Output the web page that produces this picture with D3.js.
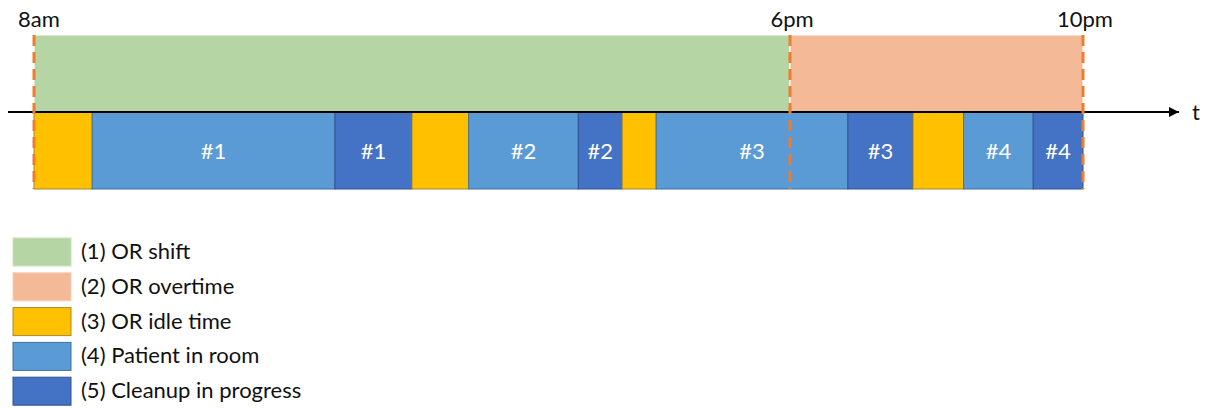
<!DOCTYPE html>
<html>
<head>
<meta charset="utf-8">
<script src="https://cdn.jsdelivr.net/npm/d3@7"></script>
<style>
  body { margin: 0; background: #fff; }
  svg { display: block; font-family: Lato, "Liberation Sans", sans-serif; }
</style>
</head>
<body>
<div id="chart"></div>
<script>
/* DATA */
// clock hours of the marked times on the axis
const tickHours = [8, 18, 22];
const tickLabels = ["8am", "6pm", "10pm"];

// OR shift / overtime bands (hours)
const bandStart = [8, 18];
const bandEnd = [18, 22];
const bandType = ["shift", "overtime"];

// room activity, boundaries in hours
const segBounds = [8, 8.77, 11.98, 13.0, 13.75, 15.2, 15.78, 16.23, 18.79, 19.68, 20.37, 21.32, 22];
const segType = ["idle", "patient", "cleanup", "idle", "patient", "cleanup",
  "idle", "patient", "cleanup", "idle", "patient", "cleanup"];
const segLabel = ["", "#1", "#1", "", "#2", "#2", "", "#3", "#3", "", "#4", "#4"];

// legend
const legendKeys = ["shift", "overtime", "idle", "patient", "cleanup"];
const legendLabels = ["(1) OR shift", "(2) OR overtime", "(3) OR idle time",
  "(4) Patient in room", "(5) Cleanup in progress"];

/* CONSTANTS */
const width = 1205, height = 408;
const bandTop = 35, axisY = 112, barBottom = 189;

const fill = d3.scaleOrdinal()
  .domain(legendKeys)
  .range(["#B6D5A4", "#F4BA97", "#FFC000", "#5B9BD5", "#4472C4"]);
const stroke = d3.scaleOrdinal()
  .domain(legendKeys)
  .range(["#C9E0BC", "#F7CDB3", "#A68A2A", "#41719C", "#2F528F"]);

// the sketch is not to scale: evening hours are a bit narrower
const x = d3.scaleLinear()
  .domain(tickHours)
  .range([34, 790, 1083]);

const svg = d3.select("#chart").append("svg")
  .attr("width", width)
  .attr("height", height);

// shift / overtime bands
svg.selectAll("rect.band")
  .data(bandStart.map((s, i) => ({ s, e: bandEnd[i], t: bandType[i] })))
  .join("rect")
  .attr("class", "band")
  .attr("x", d => x(d.s))
  .attr("y", bandTop)
  .attr("width", d => x(d.e) - x(d.s))
  .attr("height", axisY - bandTop)
  .attr("fill", d => fill(d.t))
  .attr("stroke", "#fff")
  .attr("stroke-width", 1);

// activity segments
const segs = segType.map((t, i) => ({ s: segBounds[i], e: segBounds[i + 1], t, label: segLabel[i] }));

svg.selectAll("rect.seg")
  .data(segs)
  .join("rect")
  .attr("class", "seg")
  .attr("x", d => x(d.s))
  .attr("y", axisY)
  .attr("width", d => x(d.e) - x(d.s))
  .attr("height", barBottom - axisY)
  .attr("fill", d => fill(d.t))
  .attr("stroke", d => stroke(d.t))
  .attr("stroke-width", 1);

svg.selectAll("text.seg")
  .data(segs.filter(d => d.label))
  .join("text")
  .attr("class", "seg")
  .attr("x", d => (x(d.s) + x(d.e)) / 2)
  .attr("y", (axisY + barBottom) / 2 + 8)
  .attr("text-anchor", "middle")
  .attr("fill", "#fff")
  .attr("font-size", 22)
  .text(d => d.label);

// time axis with arrow
svg.append("defs").append("marker")
  .attr("id", "arrow")
  .attr("viewBox", "0 0 10 10")
  .attr("refX", 10).attr("refY", 5)
  .attr("markerWidth", 7).attr("markerHeight", 5)
  .attr("markerUnits", "strokeWidth")
  .attr("orient", "auto")
  .append("path")
  .attr("d", "M0,0L10,5L0,10z")
  .attr("fill", "#000");

svg.append("line")
  .attr("x1", 8).attr("x2", 1179)
  .attr("y1", axisY).attr("y2", axisY)
  .attr("stroke", "#000")
  .attr("stroke-width", 2)
  .attr("marker-end", "url(#arrow)");

svg.append("text")
  .attr("x", 1196).attr("y", axisY + 8)
  .attr("text-anchor", "middle")
  .attr("font-size", 22)
  .attr("fill", "#111")
  .text("t");

// dashed markers at 8am, 6pm, 10pm
svg.selectAll("line.tick")
  .data(tickHours)
  .join("line")
  .attr("class", "tick")
  .attr("x1", d => x(d)).attr("x2", d => x(d))
  .attr("y1", bandTop).attr("y2", barBottom)
  .attr("stroke", "#ED7D31")
  .attr("stroke-width", 3)
  .attr("stroke-dasharray", "11,6");

svg.selectAll("text.tick")
  .data(tickHours)
  .join("text")
  .attr("class", "tick")
  .attr("x", (d, i) => x(d) + (i === 0 ? 5 : 2))
  .attr("y", 27)
  .attr("text-anchor", "middle")
  .attr("font-size", 22)
  .attr("fill", "#111")
  .text((d, i) => tickLabels[i]);

// legend
const legend = svg.selectAll("g.legend")
  .data(legendKeys)
  .join("g")
  .attr("class", "legend")
  .attr("transform", (d, i) => `translate(13, ${238 + i * 34.8})`);

legend.append("rect")
  .attr("width", 58)
  .attr("height", 28)
  .attr("fill", d => fill(d))
  .attr("stroke", d => stroke(d))
  .attr("stroke-width", 1);

legend.append("text")
  .attr("x", 68)
  .attr("y", 21)
  .attr("font-size", 22)
  .attr("fill", "#111")
  .text((d, i) => legendLabels[i]);
</script>
</body>
</html>
